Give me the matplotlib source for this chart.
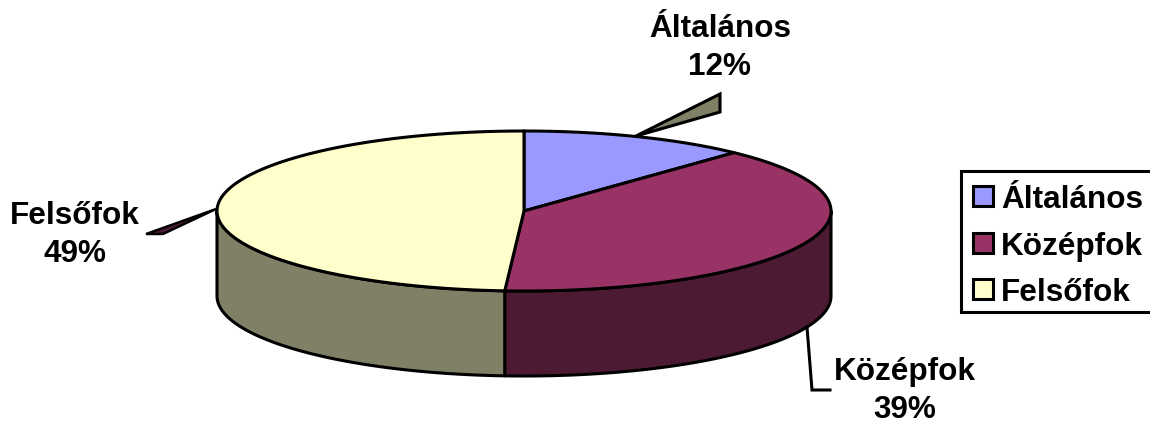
#!/usr/bin/env python3
"""3D-style pie chart of education levels."""
import matplotlib

matplotlib.use("Agg")
import matplotlib.pyplot as plt
import numpy as np
from matplotlib.patches import Polygon, Rectangle

categories = ["Általános", "Középfok", "Felsőfok"]
values = [12, 39, 49]
top_colors = ["#9999FF", "#993366", "#FFFFCC"]
side_colors = ["#4D4D80", "#4D1A33", "#808066"]

CX, CY, RX, RY, DEPTH = 524, 211, 307, 80, 85
LW = 2.2


def rim(a0, a1, dy=0.0):
    # angles in degrees, clockwise from the top of the ellipse
    t = np.radians(np.linspace(a0, a1, 120))
    return np.column_stack([CX + RX * np.sin(t), CY + dy - RY * np.cos(t)])


plt.rcParams["font.family"] = ["Liberation Sans", "DejaVu Sans"]
fig = plt.figure(figsize=(11.5, 4.26), dpi=100)
ax = fig.add_axes([0, 0, 1, 1])
ax.set_xlim(0, 1150)
ax.set_ylim(426, 0)
ax.axis("off")

edges = np.concatenate([[0], np.cumsum(values)]) / sum(values) * 360

# leader lines, the two thin ones are drawn as wedges like the original
ax.add_patch(Polygon([(636, 136), (720, 94), (720, 112)], fc=side_colors[2], ec="black", lw=LW, joinstyle="miter"))
ax.add_patch(Polygon([(146, 234), (216, 209), (163, 234)], fc=side_colors[1], ec="black", lw=LW * 0.8))
ax.plot([807, 812, 830], [327, 390, 390], color="black", lw=LW, solid_joinstyle="miter")

# side wall, only the front half of the rim is visible
for i in range(len(values)):
    a0, a1 = max(edges[i], 90), min(edges[i + 1], 270)
    if a0 >= a1:
        continue
    wall = np.vstack([rim(a0, a1), rim(a0, a1, DEPTH)[::-1]])
    ax.add_patch(Polygon(wall, fc=side_colors[i], ec="black", lw=LW, joinstyle="round"))

# top face
for i in range(len(values)):
    top = np.vstack([[(CX, CY)], rim(edges[i], edges[i + 1])])
    ax.add_patch(Polygon(top, fc=top_colors[i], ec="black", lw=LW, joinstyle="round"))

label_pos = [(720, 48), (905, 391), (75, 235)]
for name, val, (x, y) in zip(categories, values, label_pos):
    ax.text(x, y, f"{name}\n{val}%", ha="center", va="center", fontsize=22.7, fontweight="bold", linespacing=1.38)

# legend
ax.add_patch(Rectangle((961, 171), 195, 141, fc="white", ec="black", lw=LW, clip_on=True))
for name, color, y in zip(categories, top_colors, [196, 243, 289]):
    ax.add_patch(Rectangle((973, y - 10), 20, 20, fc=color, ec="black", lw=LW))
    ax.text(1001, y + 12, name, ha="left", va="baseline", fontsize=22.7, fontweight="bold")

fig.savefig("out.png", dpi=100)
